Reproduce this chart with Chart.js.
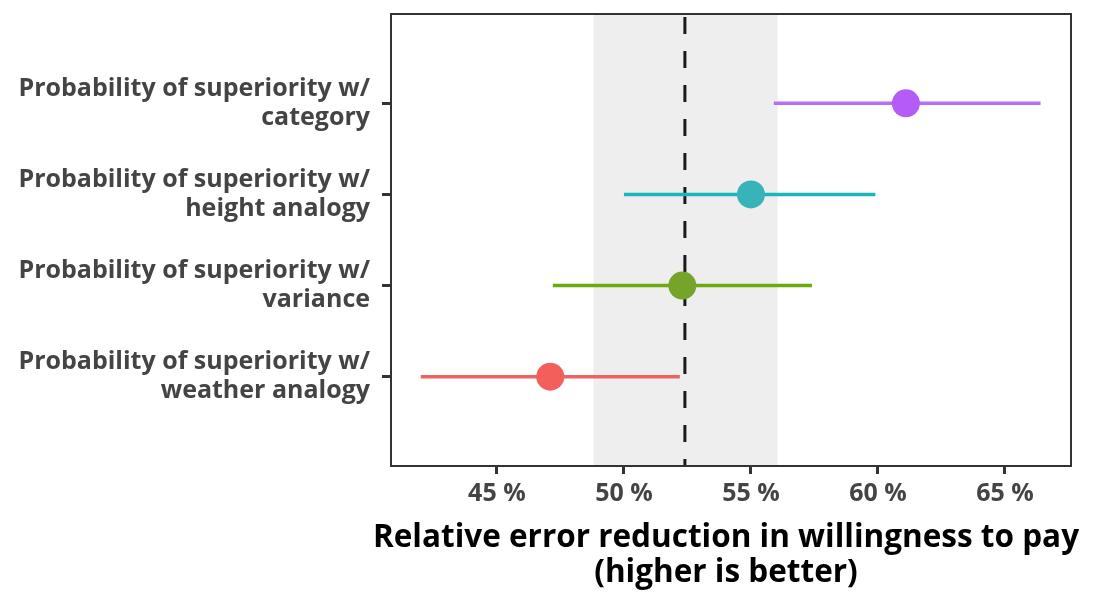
<!DOCTYPE html>
<html>
<head>
<meta charset="utf-8">
<script src="https://cdn.jsdelivr.net/npm/chart.js@4"></script>
<style>
  html, body { margin: 0; padding: 0; background: #fff; }
  #wrap { width: 1095px; height: 594px; }
</style>
</head>
<body>
<div id="wrap"><canvas id="forest-chart"></canvas></div>
<script>
const categories = [
    ['Probability of superiority w/', 'category'],
    ['Probability of superiority w/', 'height analogy'],
    ['Probability of superiority w/', 'variance'],
    ['Probability of superiority w/', 'weather analogy']
];
const estimates = [61.1, 55.0, 52.3, 47.1];
const lower = [55.9, 50.0, 47.2, 42.0];
const upper = [66.4, 59.9, 57.4, 52.2];
const pointColors = ['#B45CF7', '#38B4B9', '#76A42A', '#F35F5B'];
const lineColors = ['#B96CF5', '#1AB6BE', '#6DAB0C', '#F0625D'];
const xTicks = [45, 50, 55, 60, 65];
const xTitle = ['Relative error reduction in willingness to pay', '(higher is better)'];
const bandRange = [48.8, 56.05];
const refLine = 52.4;

// gray band, dashed reference line, box around the panel and the x title
const panelPlugin = {
    id: 'panel',
    beforeDatasetsDraw(chart) {
        const {ctx, chartArea: a, scales: {x}} = chart;
        ctx.save();
        ctx.fillStyle = '#EEEEEE';
        const b0 = x.getPixelForValue(bandRange[0]);
        const b1 = x.getPixelForValue(bandRange[1]);
        ctx.fillRect(b0, a.top, b1 - b0, a.bottom - a.top);
        const rx = x.getPixelForValue(refLine);
        ctx.strokeStyle = '#1a1a1a';
        ctx.lineWidth = 3;
        ctx.setLineDash([17, 17]);
        ctx.beginPath();
        ctx.moveTo(rx, a.top + 3);
        ctx.lineTo(rx, a.bottom);
        ctx.stroke();
        ctx.restore();
    },
    afterDraw(chart) {
        const {ctx, chartArea: a} = chart;
        ctx.save();
        ctx.strokeStyle = '#333';
        ctx.lineWidth = 2;
        ctx.strokeRect(a.left, a.top, a.right - a.left, a.bottom - a.top);
        ctx.fillStyle = '#000';
        ctx.font = 'bold 31.5px "Open Sans"';
        ctx.textAlign = 'center';
        ctx.textBaseline = 'middle';
        const cx = (a.left + a.right) / 2 - 5;
        xTitle.forEach((t, i) => ctx.fillText(t, cx, a.bottom + 72 + i * 35));
        ctx.restore();
    }
};

const datasets = categories.map((c, i) => ({
    data: [{x: lower[i], y: i + 1}, {x: upper[i], y: i + 1}],
    showLine: true,
    borderColor: lineColors[i],
    borderWidth: 3.5,
    pointRadius: 0,
    order: 2
}));
datasets.push({
    data: estimates.map((v, i) => ({x: v, y: i + 1})),
    backgroundColor: pointColors,
    borderWidth: 0,
    pointRadius: 14,
    order: 1
});

const ctx = document.getElementById('forest-chart').getContext('2d');
const myChart = new Chart(ctx, {
    type: 'scatter',
    data: {datasets},
    plugins: [panelPlugin],
    options: {
        responsive: true,
        maintainAspectRatio: false,
        animation: false,
        layout: {padding: {top: 8, right: 24, left: 0, bottom: 0}},
        plugins: {legend: {display: false}, tooltip: {enabled: false}},
        scales: {
            x: {
                min: 40.83,
                max: 67.6,
                afterBuildTicks: s => { s.ticks = xTicks.map(v => ({value: v})); },
                afterFit: s => { s.height = 128; s.paddingLeft = 0; s.paddingRight = 0; },
                grid: {drawOnChartArea: false, tickLength: 8, tickWidth: 3, color: '#333'},
                border: {display: false},
                ticks: {
                    color: '#444',
                    padding: 5,
                    font: {family: 'Open Sans', weight: 'bold', size: 25},
                    callback: v => v + ' %'
                }
            },
            y: {
                min: 0.02,
                max: 4.98,
                reverse: true,
                afterBuildTicks: s => { s.ticks = categories.map((c, i) => ({value: i + 1})); },
                afterFit: s => { s.width = 391; s.paddingTop = 0; s.paddingBottom = 0; },
                grid: {drawOnChartArea: false, tickLength: 9, tickWidth: 3, color: '#333'},
                border: {display: false},
                ticks: {
                    color: '#444',
                    padding: 12,
                    font: {family: 'Open Sans', weight: 'bold', size: 25, lineHeight: 1.16},
                    callback: (v) => categories[v - 1]
                }
            }
        }
    }
});
</script>
</body>
</html>
